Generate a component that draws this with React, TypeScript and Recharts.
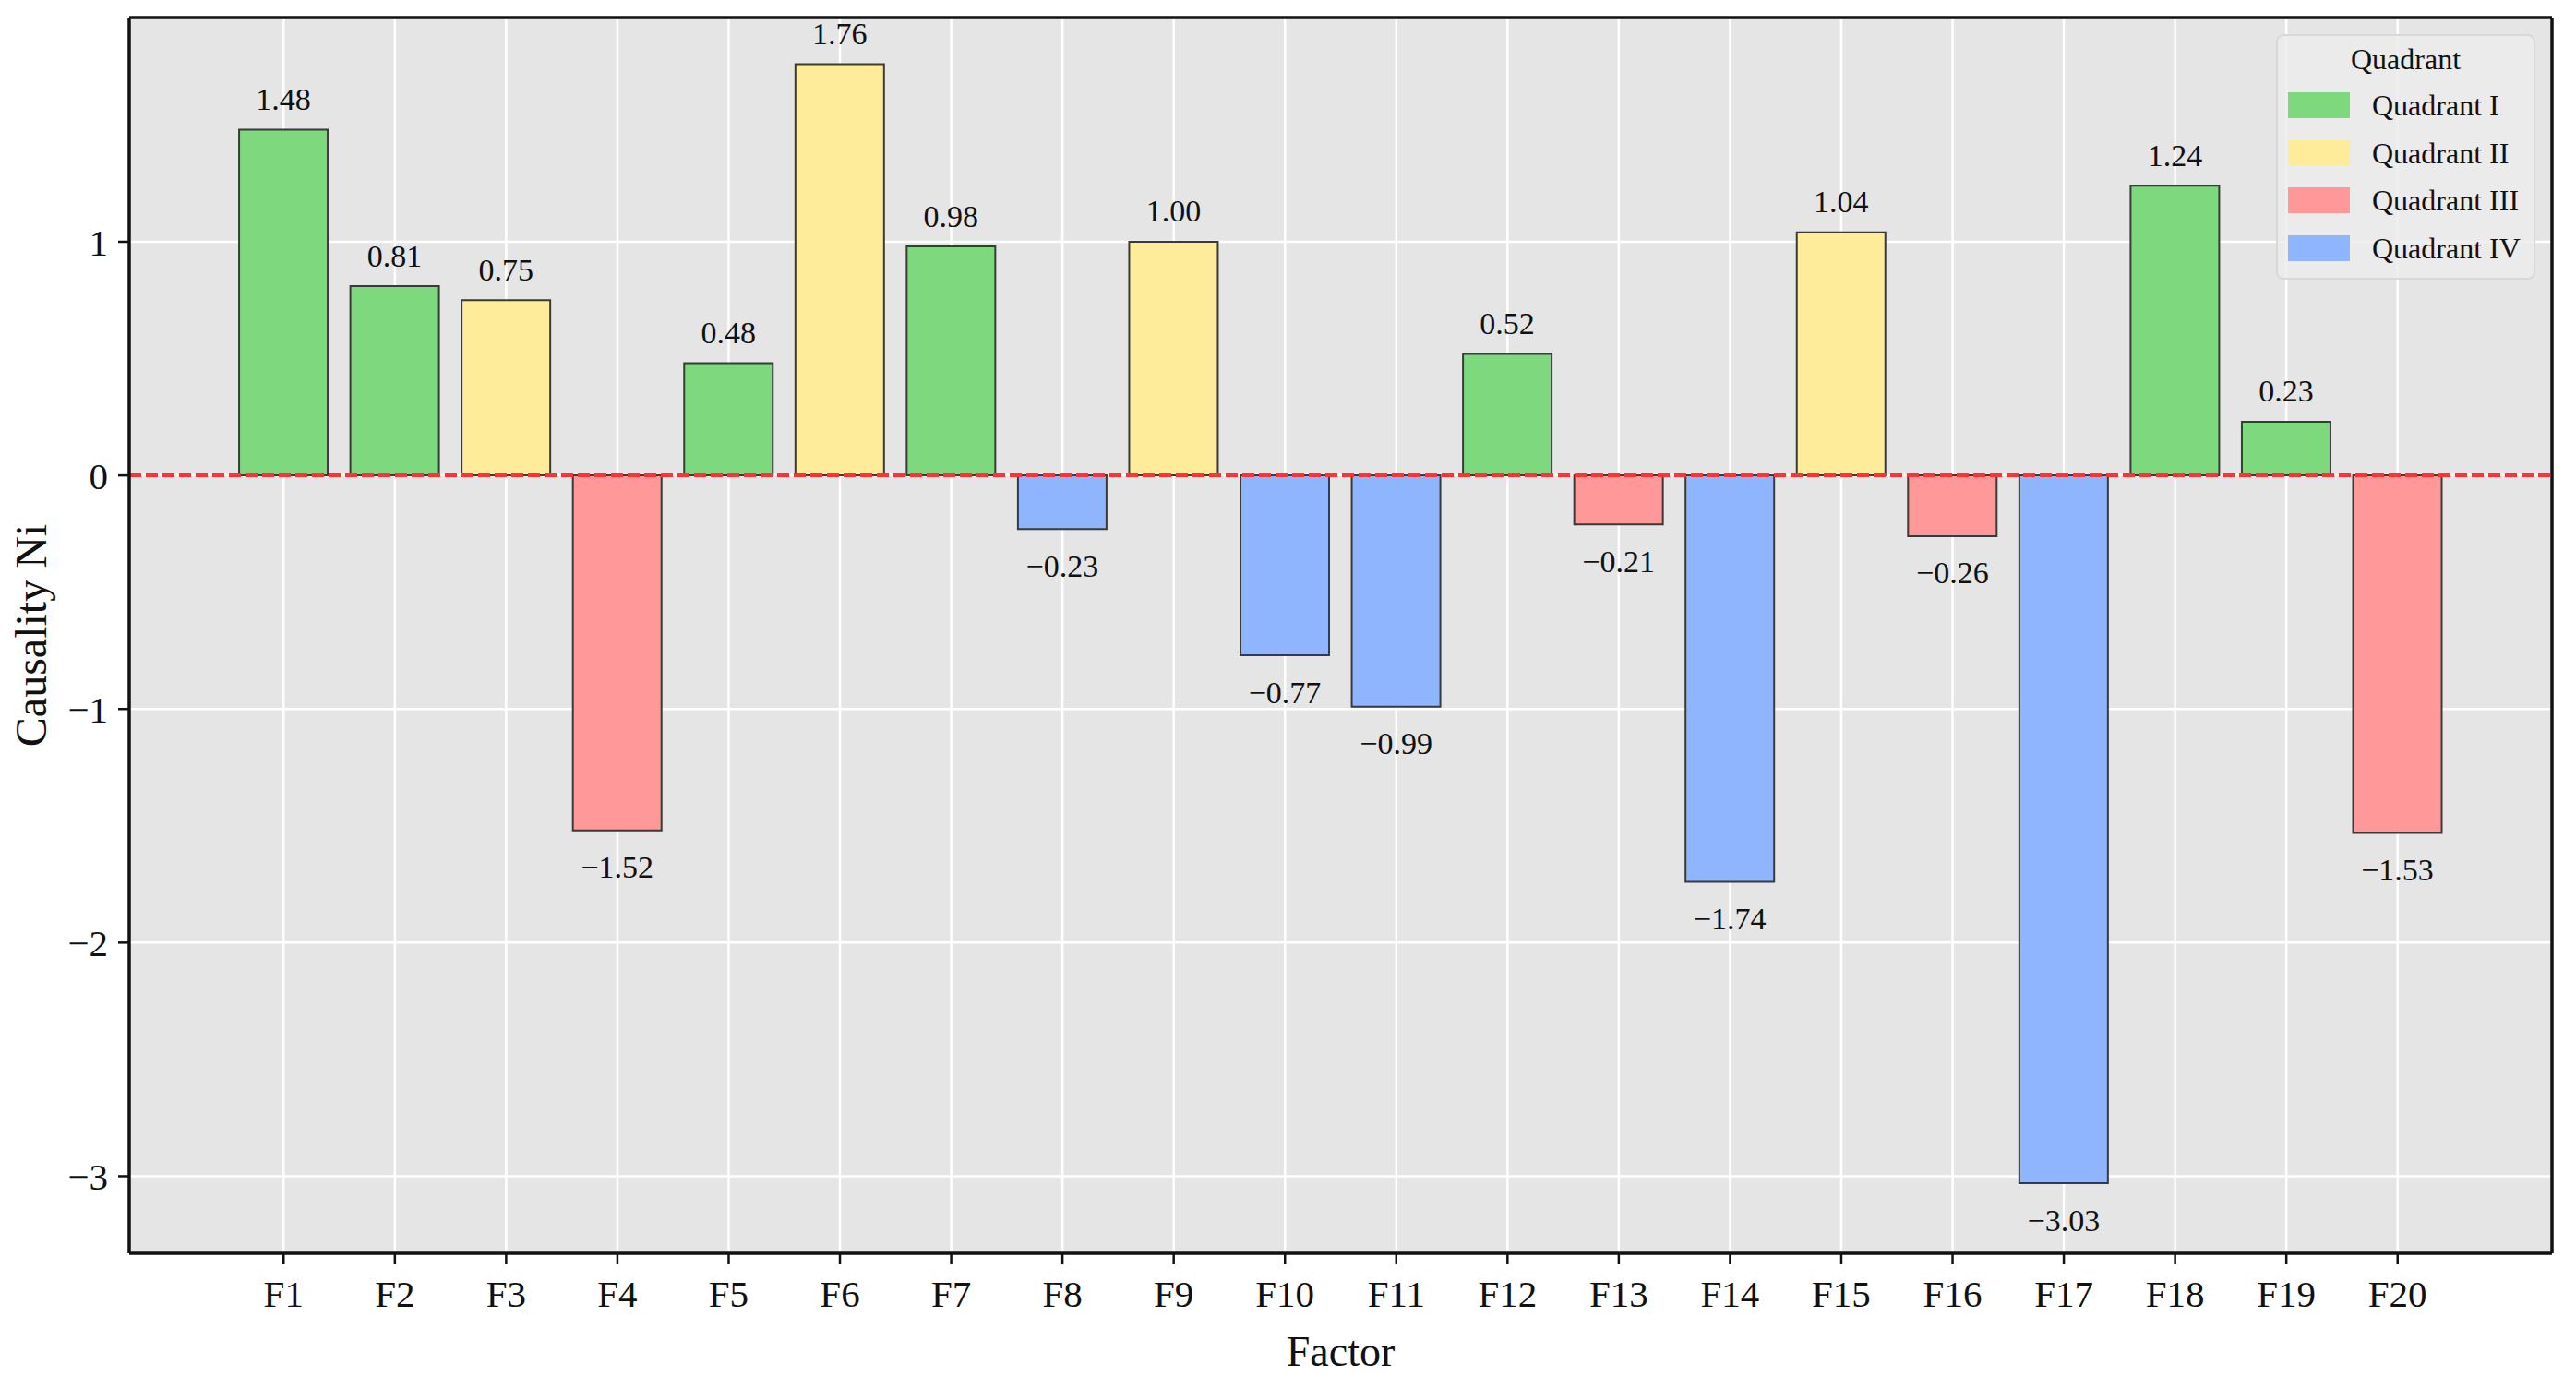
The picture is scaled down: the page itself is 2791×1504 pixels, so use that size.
import {
  BarChart,
  Bar,
  XAxis,
  YAxis,
  CartesianGrid,
  ReferenceLine,
  Cell,
  LabelList,
  Label,
} from "recharts";

const FONT = "'Liberation Serif', 'DejaVu Serif', serif";

const factors = [
  "F1", "F2", "F3", "F4", "F5", "F6", "F7", "F8", "F9", "F10",
  "F11", "F12", "F13", "F14", "F15", "F16", "F17", "F18", "F19", "F20",
];
const causality = [
  1.48, 0.81, 0.75, -1.52, 0.48, 1.76, 0.98, -0.23, 1.0, -0.77,
  -0.99, 0.52, -0.21, -1.74, 1.04, -0.26, -3.03, 1.24, 0.23, -1.53,
];
// quadrant index per factor (0 = I, 1 = II, 2 = III, 3 = IV)
const quadrantOf = [0, 0, 1, 2, 0, 1, 0, 3, 1, 3, 3, 0, 2, 3, 1, 2, 3, 0, 0, 2];
const quadrantNames = ["Quadrant I", "Quadrant II", "Quadrant III", "Quadrant IV"];
const quadrantColors = ["#7ed97e", "#feec9b", "#ff9999", "#8fb5fe"];
const yTicks = [-3, -2, -1, 0, 1];

const data = factors.map((name, i) => ({
  name,
  value: causality[i],
  quadrant: quadrantOf[i],
}));

const fmtNum = (v: number, digits = 0) =>
  v < 0 ? `\u2212${Math.abs(v).toFixed(digits)}` : v.toFixed(digits);

function ValueLabel(props: any) {
  const { x, y, width, height, value } = props;
  const top = Math.min(y, y + height);
  const bottom = Math.max(y, y + height);
  const cy = value >= 0 ? top - 33 : bottom + 40;
  return (
    <text
      x={x + width / 2}
      y={cy}
      textAnchor="middle"
      dominantBaseline="central"
      fontSize={34}
      fill="#111"
      fontFamily={FONT}
    >
      {fmtNum(value, 2)}
    </text>
  );
}

function YLabel(props: any) {
  const vb = props.viewBox;
  const cy = vb.y + vb.height / 2;
  return (
    <text
      x={50}
      y={cy}
      transform={`rotate(-90, 50, ${cy})`}
      textAnchor="middle"
      fontSize={48}
      fill="#111"
      fontFamily={FONT}
    >
      Causality Ni
    </text>
  );
}

function XLabel(props: any) {
  const vb = props.viewBox;
  return (
    <text
      x={vb.x + vb.width / 2}
      y={vb.y + 122}
      textAnchor="middle"
      fontSize={46}
      fill="#111"
      fontFamily={FONT}
    >
      Factor
    </text>
  );
}

function QuadrantLegend() {
  return (
    <div
      style={{
        position: "absolute",
        left: 2466,
        top: 37,
        width: 281,
        height: 266,
        boxSizing: "border-box",
        background: "rgba(236,236,236,0.85)",
        border: "2px solid #d8d8d8",
        borderRadius: 8,
        fontFamily: FONT,
        color: "#111",
      }}
    >
      <div
        style={{
          position: "absolute",
          left: 0,
          right: 0,
          top: 5,
          textAlign: "center",
          fontSize: 32,
          lineHeight: "40px",
        }}
      >
        Quadrant
      </div>
      {quadrantNames.map((q, i) => (
        <div
          key={q}
          style={{
            position: "absolute",
            left: 11,
            top: 59 + i * 51.5,
            height: 32,
            display: "flex",
            alignItems: "center",
          }}
        >
          <div
            style={{
              width: 67,
              height: 28,
              background: quadrantColors[i],
            }}
          />
          <span style={{ marginLeft: 24, fontSize: 32, lineHeight: "32px" }}>{q}</span>
        </div>
      ))}
    </div>
  );
}

export default function App() {
  return (
    <div
      style={{
        position: "absolute",
        left: 0,
        top: 0,
        width: 2791,
        height: 1504,
        background: "#ffffff",
      }}
    >
      <BarChart
        width={2791}
        height={1504}
        data={data}
        margin={{ top: 18, right: 25, bottom: 66, left: 40 }}
        barCategoryGap="10%"
      >
        <CartesianGrid fill="#e5e5e5" stroke="#ffffff" strokeWidth={2.5} />
        <XAxis
          dataKey="name"
          height={80}
          padding={{ left: 107, right: 107 }}
          interval={0}
          tickSize={12}
          tickMargin={17}
          tickLine={{ stroke: "#111", strokeWidth: 2.5 }}
          axisLine={{ stroke: "#111", strokeWidth: 3.5 }}
          tick={{ fontSize: 41, fill: "#111", fontFamily: FONT }}
        >
          <Label content={<XLabel />} />
        </XAxis>
        <XAxis
          xAxisId="top"
          orientation="top"
          dataKey="name"
          height={1}
          tick={false}
          tickLine={false}
          axisLine={{ stroke: "#111", strokeWidth: 3.5 }}
        />
        <YAxis
          type="number"
          width={100}
          domain={[-3.33, 1.96]}
          ticks={yTicks}
          allowDataOverflow
          tickSize={12}
          tickMargin={11}
          tickFormatter={(v: number) => fmtNum(v)}
          tickLine={{ stroke: "#111", strokeWidth: 2.5 }}
          axisLine={{ stroke: "#111", strokeWidth: 3.5 }}
          tick={{ fontSize: 41, fill: "#111", fontFamily: FONT }}
        >
          <Label content={<YLabel />} />
        </YAxis>
        <YAxis
          yAxisId="right"
          orientation="right"
          width={1}
          tick={false}
          tickLine={false}
          axisLine={{ stroke: "#111", strokeWidth: 3.5 }}
        />
        <Bar
          dataKey="value"
          isAnimationActive={false}
          stroke="#3a3a3a"
          strokeWidth={2}
        >
          {data.map((d) => (
            <Cell key={d.name} fill={quadrantColors[d.quadrant]} />
          ))}
          <LabelList dataKey="value" content={<ValueLabel />} />
        </Bar>
        <ReferenceLine
          y={0}
          stroke="#ff3333"
          strokeWidth={4}
          strokeDasharray="13 5"
        />
      </BarChart>
      <QuadrantLegend />
    </div>
  );
}
